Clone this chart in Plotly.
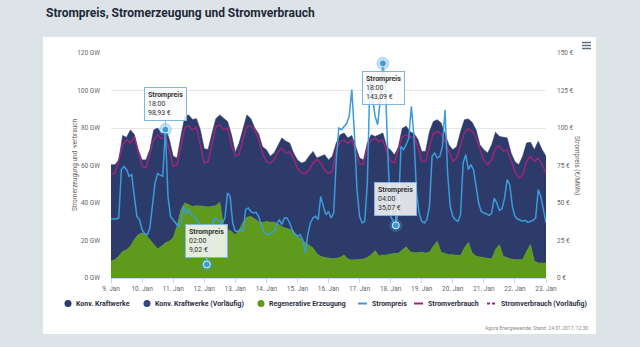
import pandas as pd
import plotly.graph_objects as go

# ---------------------------------------------------------------------------
# Data: 9 Jan 2017 00:00 - 23 Jan 2017 00:00
# ---------------------------------------------------------------------------
zeit_3h = pd.date_range("2017-01-09 00:00", "2017-01-23 00:00", freq="3h")
zeit_2h = pd.date_range("2017-01-09 00:00", "2017-01-23 00:00", freq="2h")

# Regenerative Erzeugung in GW (3-hourly)
regenerativ = [
    8.9, 9.8, 11.6, 14.2, 15.0, 16.9, 20.4, 23.1,
    24.0, 23.0, 20.4, 17.8, 15.5, 16.9, 18.7, 19.6,
    21.3, 27.6, 36.4, 40.0, 39.0, 38.2, 38.6, 38.2,
    38.2, 37.9, 38.2, 38.6, 40.4, 27.6, 25.8, 24.9,
    23.0, 25.6, 29.8, 32.4, 32.8, 31.6, 30.1, 29.6,
    30.1, 29.8, 29.8, 28.8, 27.4, 26.6, 26.0, 24.8,
    22.5, 20.5, 19.0, 17.5, 16.0, 13.0, 11.5, 11.0,
    10.5, 10.3, 10.5, 11.0, 12.3, 10.0, 9.6, 9.6,
    9.6, 10.0, 11.0, 12.3, 14.6, 11.7, 12.3, 12.3,
    12.8, 12.8, 13.2, 14.9, 16.7, 14.0, 13.5, 13.5,
    13.7, 13.3, 13.7, 16.9, 19.6, 13.7, 13.0, 12.4,
    12.4, 12.1, 11.9, 16.0, 19.0, 13.3, 11.6, 11.2,
    10.7, 10.3, 10.1, 15.1, 17.8, 11.6, 10.7, 10.1,
    9.8, 9.8, 9.8, 14.2, 17.8, 8.9, 8.0, 8.0,
    8.0,
]

# Konventionelle Kraftwerke in GW (3-hourly)
konventionell = [
    51.5, 50.6, 51.4, 61.8, 60.0, 62.1, 56.1, 45.4,
    39.0, 40.0, 48.1, 61.2, 64.5, 60.1, 61.3, 54.4,
    43.7, 36.4, 39.1, 46.0, 48.0, 46.3, 46.4, 40.8,
    30.8, 30.6, 38.8, 46.4, 46.6, 57.4, 57.7, 51.6,
    44.0, 46.4, 50.2, 54.6, 52.2, 48.4, 46.9, 40.4,
    38.3, 35.2, 36.9, 42.2, 47.3, 46.4, 46.0, 41.9,
    40.5, 40.8, 43.0, 47.5, 51.5, 51.0, 53.5, 54.8,
    52.5, 54.7, 61.5, 65.4, 65.0, 64.7, 66.4, 60.4,
    54.4, 53.0, 61.0, 64.1, 60.9, 64.7, 65.0, 57.7,
    55.5, 52.8, 56.8, 64.9, 64.3, 64.0, 63.5, 60.5,
    53.8, 54.2, 64.3, 66.6, 64.8, 69.0, 64.3, 58.6,
    56.0, 57.9, 66.1, 68.4, 65.8, 69.7, 67.4, 59.8,
    57.7, 56.4, 60.9, 62.6, 57.7, 63.4, 64.0, 56.6,
    52.2, 50.6, 55.2, 57.8, 54.6, 59.5, 64.9, 60.4,
    57.0,
]

# Stromverbrauch in GW (3-hourly)
verbrauch = [
    55.1, 56.0, 63.0, 71.0, 73.8, 72.0, 75.2, 66.7,
    59.6, 58.7, 65.8, 73.8, 76.4, 74.1, 75.6, 68.4,
    59.6, 60.4, 70.2, 80.0, 81.2, 79.0, 80.5, 70.2,
    61.3, 62.2, 72.0, 80.5, 81.8, 79.0, 80.0, 71.0,
    65.0, 66.0, 74.0, 81.0, 81.0, 79.0, 74.0, 66.5,
    62.0, 61.2, 63.0, 67.4, 69.2, 66.5, 67.4, 63.8,
    58.5, 56.2, 55.8, 57.6, 61.2, 63.3, 61.2, 57.6,
    55.8, 56.7, 68.3, 72.7, 73.6, 71.8, 73.6, 66.5,
    60.8, 60.8, 70.0, 73.6, 74.5, 72.7, 73.6, 67.4,
    62.0, 61.6, 68.3, 75.4, 76.3, 75.0, 75.4, 70.0,
    62.2, 62.2, 70.2, 77.3, 78.2, 77.0, 72.9, 67.0,
    62.2, 64.0, 71.1, 77.7, 79.5, 78.2, 74.7, 68.4,
    62.8, 60.4, 63.1, 69.3, 70.6, 67.6, 68.4, 62.8,
    56.9, 53.3, 55.1, 62.2, 64.9, 62.2, 64.0, 60.4,
    56.0,
]

# Strompreis in EUR/MWh (2-hourly)
strompreis = [
    39.3, 39.3, 39.3, 40.0, 72.2, 74.4, 72.2, 67.8, 68.9, 54.4, 41.1, 38.9,
    32.2, 29.6, 28.9, 33.3, 50.0, 63.3, 69.6, 68.9, 67.8, 98.93, 54.4, 41.1,
    38.9, 36.7, 34.4, 36.7, 47.8, 43.3, 45.6, 42.2, 41.1, 38.9, 36.7, 32.2,
    18.9, 9.02, 18.9, 34.4, 40.0, 38.9, 37.8, 36.7, 40.0, 56.7, 54.4, 36.7,
    31.1, 31.1, 32.2, 31.1, 45.6, 46.7, 44.4, 43.3, 43.8, 41.1, 35.6, 31.1,
    29.6, 28.9, 30.0, 31.1, 35.6, 38.9, 35.6, 40.0, 40.0, 36.7, 32.2, 28.9,
    27.8, 28.9, 25.6, 16.7, 28.9, 36.7, 40.0, 41.1, 38.9, 54.4, 47.8, 42.2,
    44.4, 40.0, 43.3, 78.9, 100.0, 98.9, 101.0, 103.0, 107.8, 125.6, 96.7, 58.9,
    41.1, 36.7, 37.8, 63.3, 132.2, 121.1, 107.8, 102.2, 118.9, 143.09, 127.8, 78.9,
    41.1, 37.8, 35.07, 45.6, 87.8, 85.6, 88.9, 93.3, 114.4, 94.4, 56.7, 43.3,
    37.8, 36.7, 38.9, 47.8, 81.1, 83.3, 80.0, 81.1, 87.8, 112.2, 70.0, 47.8,
    41.1, 38.9, 37.8, 42.2, 76.7, 82.2, 72.2, 75.6, 72.2, 61.1, 50.0, 44.4,
    43.3, 42.9, 41.6, 43.3, 53.3, 50.0, 45.1, 46.1, 53.3, 65.6, 62.2, 47.8,
    41.1, 39.3, 38.4, 37.8, 38.4, 37.1, 37.8, 38.4, 40.0, 58.9, 54.4, 45.6,
    36.7,
]

# Highlighted price points (tooltips)
preis_markiert = ["2017-01-10 18:00", "2017-01-12 02:00",
                  "2017-01-17 18:00", "2017-01-18 04:00"]

tage = pd.date_range("2017-01-09", "2017-01-23", freq="D")
tag_labels = ["9. Jan", "10. Jan", "11. Jan", "12. Jan", "13. Jan", "14. Jan",
              "15. Jan", "16. Jan", "17. Jan", "18. Jan", "19. Jan", "20. Jan",
              "21. Jan", "22. Jan", "23. Jan"]

serien_namen = ["Konv. Kraftwerke", "Konv. Kraftwerke (Vorläufig)",
                "Regenerative Erzeugung", "Strompreis", "Stromverbrauch",
                "Stromverbrauch (Vorläufig)"]

assert len(regenerativ) == len(konventionell) == len(verbrauch) == len(zeit_3h)
assert len(strompreis) == len(zeit_2h)

# ---------------------------------------------------------------------------
# Styling
# ---------------------------------------------------------------------------
W, H = 640, 347
ML, MR, MT, MB = 111, 94, 53, 69
PW, PH = W - ML - MR, H - MT - MB

NAVY = "#2d3b6b"
NAVY2 = "#34467c"
GREEN = "#5e9b1c"
PURPLE = "#a3257a"
BLUE = "#3b9bdb"
FONT = "Roboto"


def px(x):
    return (x - ML) / PW


def py(y):
    return (H - MB - y) / PH


fig = go.Figure()

fig.add_trace(go.Scatter(
    x=zeit_3h, y=regenerativ, name=serien_namen[2], stackgroup="erz",
    mode="lines", line=dict(color=GREEN, width=0.6), fillcolor=GREEN,
    showlegend=False))
fig.add_trace(go.Scatter(
    x=zeit_3h, y=konventionell, name=serien_namen[0], stackgroup="erz",
    mode="lines", line=dict(color=NAVY, width=0.6), fillcolor=NAVY,
    showlegend=False))
fig.add_trace(go.Scatter(
    x=zeit_3h, y=verbrauch, name=serien_namen[4], mode="lines",
    line=dict(color=PURPLE, width=1.4), showlegend=False))
fig.add_trace(go.Scatter(
    x=zeit_2h, y=strompreis, name=serien_namen[3], mode="lines",
    line=dict(color=BLUE, width=1.5), yaxis="y2", showlegend=False))

# highlighted price points with halo
preis_series = pd.Series(strompreis, index=zeit_2h)
mx = [pd.Timestamp(t) for t in preis_markiert]
my = [preis_series[t] for t in mx]
fig.add_trace(go.Scatter(
    x=mx, y=my, mode="markers", yaxis="y2", showlegend=False,
    marker=dict(size=13, color="rgba(59,155,219,0.35)", line=dict(width=0))))
fig.add_trace(go.Scatter(
    x=mx, y=my, mode="markers", yaxis="y2", showlegend=False,
    marker=dict(size=7, color=BLUE, line=dict(width=1, color="#eaf4fb"))))

annotations = []
tip_offsets = [(0, -26), (0, -23), (1, 25), (0, -26)]
for t, v, (ax, ay) in zip(mx, my, tip_offsets):
    wert = f"{v:.2f}".replace(".", ",")
    annotations.append(dict(
        x=t, y=v, xref="x", yref="y2",
        text=f"<b>Strompreis</b><br>{t:%H:%M}<br>{wert} €",
        align="left", showarrow=True, arrowhead=0, arrowwidth=1,
        arrowcolor="#7fb6df", ax=ax, ay=ay, standoff=4,
        bgcolor="rgba(250,250,250,0.86)", bordercolor="#7fb6df",
        borderwidth=1, borderpad=3,
        font=dict(family=FONT, size=7, color="#333333")))

# chart title
annotations.append(dict(
    x=px(44), y=py(13), xref="paper", yref="paper", xanchor="left",
    yanchor="middle", showarrow=False,
    text="<b>Strompreis, Stromerzeugung und Stromverbrauch</b>",
    font=dict(family=FONT, size=12, color="#1d2738")))

# axis titles
annotations.append(dict(
    x=px(69), y=py(165), xref="paper", yref="paper", showarrow=False,
    text="Stromerzeugung und -verbrauch", textangle=-90,
    font=dict(family=FONT, size=6.5, color="#666666")))
annotations.append(dict(
    x=px(583), y=py(165), xref="paper", yref="paper", showarrow=False,
    text="Strompreis (€/MWh)", textangle=90,
    font=dict(family=FONT, size=6.5, color="#666666")))

# source note
annotations.append(dict(
    x=px(590), y=py(328), xref="paper", yref="paper", xanchor="right",
    yanchor="middle", showarrow=False,
    text="Agora Energiewende; Stand: 24.01.2017, 12:30",
    font=dict(family=FONT, size=5, color="#8a8a8a")))

shapes = []
# white card behind the chart
shapes.append(dict(type="rect", xref="paper", yref="paper", layer="below",
                   x0=px(43), x1=px(596), y0=py(334), y1=py(37),
                   fillcolor="white", line=dict(width=0)))
# menu icon
for yy in (42.5, 45.5, 48.5):
    shapes.append(dict(type="line", xref="paper", yref="paper",
                       x0=px(582), x1=px(591), y0=py(yy), y1=py(yy),
                       line=dict(color="#5b6f80", width=1.5)))

# legend
LEG_Y = 303.5
legend_items = [
    ("dot", NAVY, None, 68, 73.5),
    ("dot", NAVY2, None, 147, 153),
    ("dot", GREEN, None, 261, 267),
    ("line", BLUE, "solid", 358, 370),
    ("line", PURPLE, "solid", 414, 426),
    ("line", PURPLE, "3px,2px", 487, 499),
]
for name, (kind, col, dash, xs, xt) in zip(serien_namen, legend_items):
    if kind == "dot":
        shapes.append(dict(type="circle", xref="paper", yref="paper",
                           x0=px(xs - 3.5), x1=px(xs + 3.5),
                           y0=py(LEG_Y + 3.5), y1=py(LEG_Y - 3.5),
                           fillcolor=col, line=dict(width=0)))
    else:
        shapes.append(dict(type="line", xref="paper", yref="paper",
                           x0=px(xs), x1=px(xs + 9), y0=py(LEG_Y), y1=py(LEG_Y),
                           line=dict(color=col, width=2, dash=dash)))
    annotations.append(dict(
        x=px(xt), y=py(LEG_Y), xref="paper", yref="paper", xanchor="left",
        yanchor="middle", showarrow=False, text=f"<b>{name}</b>",
        font=dict(family=FONT, size=7, color="#2b2f45")))

tick_font = dict(family=FONT, size=6.5, color="#666666")

fig.update_layout(
    width=W, height=H,
    margin=dict(l=ML, r=MR, t=MT, b=MB, pad=0),
    paper_bgcolor="#dde4e7", plot_bgcolor="white",
    showlegend=False,
    xaxis=dict(type="date", range=[zeit_3h[0], zeit_3h[-1]],
               tickvals=tage, ticktext=tag_labels, tickfont=tick_font,
               ticks="outside", ticklen=4, tickcolor="#ccd6eb",
               showline=True, linecolor="#ccd6eb", linewidth=1,
               showgrid=False, zeroline=False, fixedrange=True),
    yaxis=dict(range=[0, 120], dtick=20, ticksuffix=" GW", tickfont=tick_font,
               gridcolor="#e6e6e6", gridwidth=1, zeroline=False,
               ticklabelstandoff=10, fixedrange=True),
    yaxis2=dict(range=[0, 150], dtick=25, ticksuffix=" €", tickfont=tick_font,
                overlaying="y", side="right", showgrid=False, zeroline=False,
                ticklabelstandoff=10, fixedrange=True),
    annotations=annotations, shapes=shapes,
)

fig.write_html("out.html")
